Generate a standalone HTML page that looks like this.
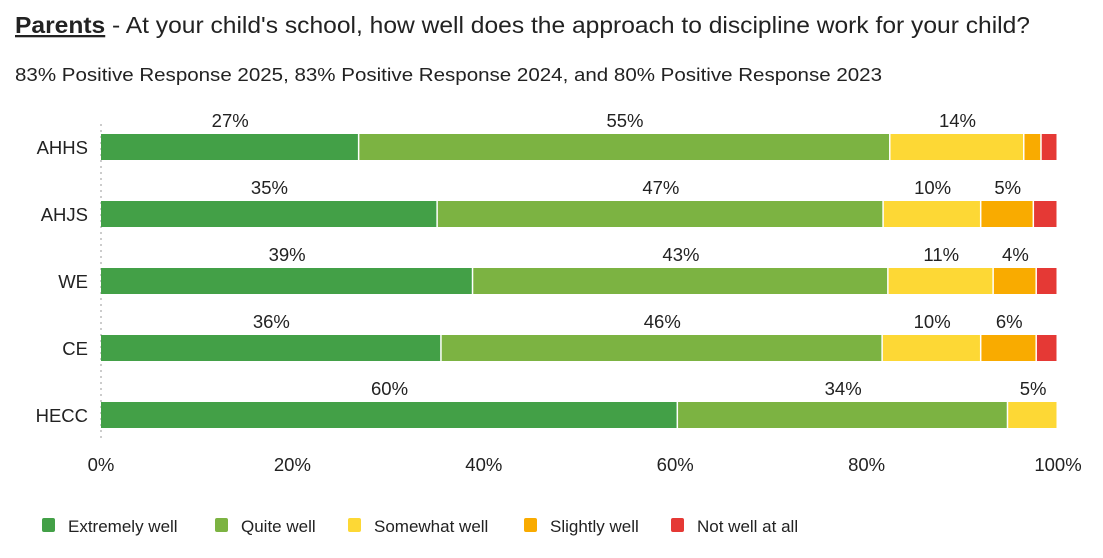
<!DOCTYPE html>
<html><head><meta charset="utf-8"><style>
body{margin:0;background:#fff;width:1103px;height:553px;overflow:hidden;font-family:"Liberation Sans",Arial,sans-serif;color:#222}
</style></head><body>
<svg id="chart" width="1103" height="553" xmlns="http://www.w3.org/2000/svg" font-family="Liberation Sans, Arial, sans-serif">
<text x="15" y="33" font-size="23" fill="#222" textLength="1015" lengthAdjust="spacingAndGlyphs"><tspan font-weight="bold" text-decoration="underline">Parents</tspan> - At your child's school, how well does the approach to discipline work for your child?</text>
<text x="15" y="81" font-size="18.5" fill="#222" textLength="867" lengthAdjust="spacingAndGlyphs">83% Positive Response 2025, 83% Positive Response 2024, and 80% Positive Response 2023</text>
<line x1="101" y1="124" x2="101" y2="438" stroke="#ccc" stroke-width="2" stroke-dasharray="2,4"/>
<g id="bars"></g><g id="xaxis"></g><g id="legend"></g>
</svg>
<script>
const categories=["AHHS","AHJS","WE","CE","HECC"];
const seriesNames=["Extremely well","Quite well","Somewhat well","Slightly well","Not well at all"];
const extremely=[27,35.2,38.9,35.6,60.3];
const quite=[55.5,46.6,43.4,46.1,34.5];
const somewhat=[14,10.2,11,10.3,5.2];
const slightly=[1.8,5.5,4.5,5.8,0];
const notwell=[1.7,2.5,2.2,2.2,0];
const labelsShown=[[27,55,14,null,null],[35,47,10,5,null],[39,43,11,4,null],[36,46,10,6,null],[60,34,5,null,null]];
const xTicks=[0,20,40,60,80,100];
const colors=["#43a047","#7cb342","#fdd835","#f9ab00","#e53935"];
const NS="http://www.w3.org/2000/svg";
const x0=101,x1=1058;
const xs=v=>x0+(x1-x0)*v/100;
const rowY=i=>134+i*67;
const series=[extremely,quite,somewhat,slightly,notwell];
const bars=document.getElementById('bars');
categories.forEach((c,i)=>{
  const y=rowY(i);
  const t=document.createElementNS(NS,'text');
  
  
  t.setAttribute('x',88);t.setAttribute('y',y+20);t.setAttribute('text-anchor','end');t.setAttribute('font-size','18.5');t.setAttribute('fill','#222');
  t.textContent=c;bars.appendChild(t);
  let acc=0;
  series.forEach((s,k)=>{
    const v=s[i];if(!v)return;
    const r=document.createElementNS(NS,'rect');
    
    
    r.setAttribute('x',xs(acc));r.setAttribute('y',y);r.setAttribute('width',Math.max(0,xs(acc+v)-xs(acc)-1.5));r.setAttribute('height',26);r.setAttribute('fill',colors[k]);
    bars.appendChild(r);
    const lab=labelsShown[i][k];
    if(lab!==null){
      const l=document.createElementNS(NS,'text');
      
      
      l.setAttribute('x',(xs(acc)+xs(acc+v))/2);l.setAttribute('y',y-7);l.setAttribute('text-anchor','middle');l.setAttribute('font-size','18.5');l.setAttribute('fill','#222');
      l.textContent=lab+'%';bars.appendChild(l);
    }
    acc+=v;
  });
});
const xa=document.getElementById('xaxis');
xTicks.forEach(v=>{
  const t=document.createElementNS(NS,'text');
  
  
  t.setAttribute('x',xs(v));t.setAttribute('y',471);t.setAttribute('text-anchor','middle');t.setAttribute('font-size','18.5');t.setAttribute('fill','#222');
  t.textContent=v+'%';xa.appendChild(t);
});
const lg=document.getElementById('legend');
const lx=[42,215,348,524,671];
seriesNames.forEach((n,k)=>{
  const r=document.createElementNS(NS,'rect');
  
  
  r.setAttribute('x',lx[k]);r.setAttribute('y',518);r.setAttribute('width',13);r.setAttribute('height',14);r.setAttribute('rx',2);r.setAttribute('fill',colors[k]);
  lg.appendChild(r);
  const t=document.createElementNS(NS,'text');
  
  
  t.setAttribute('x',lx[k]+26);t.setAttribute('y',532);t.setAttribute('font-size','17');t.setAttribute('fill','#222');
  t.textContent=n;lg.appendChild(t);
});
</script>
</body></html>
